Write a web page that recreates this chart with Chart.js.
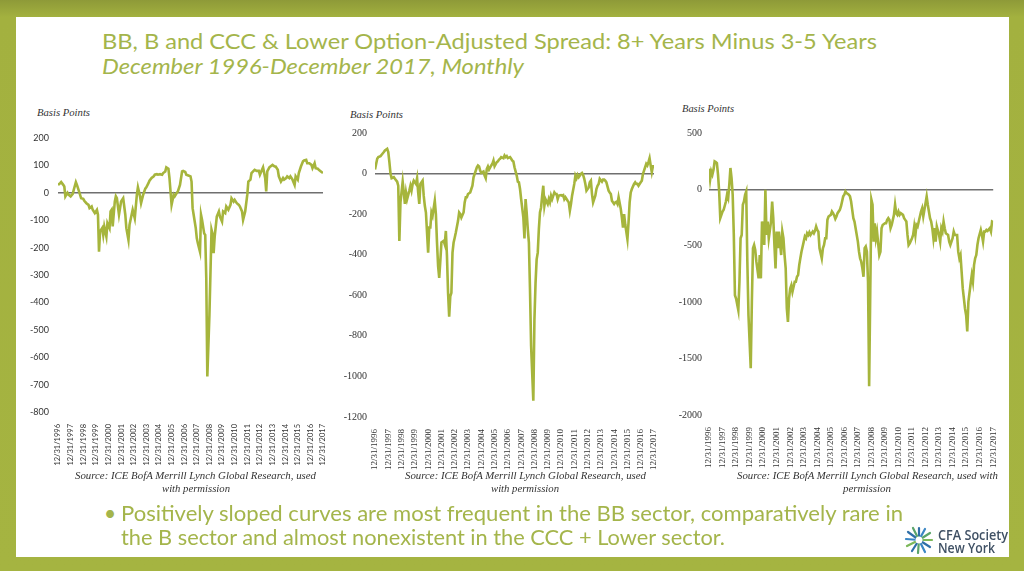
<!DOCTYPE html>
<html>
<head>
<meta charset="utf-8">
<script src="https://cdn.jsdelivr.net/npm/chart.js@4.4.0/dist/chart.umd.min.js"></script>
<style>
  html, body { margin: 0; padding: 0; }
  body {
    width: 1024px; height: 571px; overflow: hidden; position: relative;
    background: linear-gradient(to bottom, #8e9a38 0px, #a3b13f 17px, #a5b441 100%);
  }
  #panel { position: absolute; left: 16px; top: 17px; width: 993px; height: 540px; background: #fff; }
  .t { position: absolute; white-space: nowrap; transform-origin: 0 0; }
  .head { font-family: Lato, "Open Sans", sans-serif; color: #a4b54b; font-size: 21px; line-height: 21px; }
  .serif { font-family: "Liberation Serif", "DejaVu Serif", serif; font-style: italic; color: #333; font-size: 11px; line-height: 11px; }
  canvas { position: absolute; }
  .logo { font-family: "Open Sans", sans-serif; color: #3f5064; font-size: 14px; line-height: 12px; font-weight: 600; }
</style>
</head>
<body>
<div id="panel"></div>

<div class="t head" style="left:102px; top:30px;" data-w="775">BB, B and CCC &amp; Lower Option-Adjusted Spread: 8+ Years Minus 3-5 Years</div>
<div class="t head" style="left:102px; top:55px; font-style:italic;" data-w="422">December 1996-December 2017, Monthly</div>

<div class="t serif" style="left:37px; top:107px;" data-w="53">Basis Points</div>
<div class="t serif" style="left:350px; top:109px;" data-w="53">Basis Points</div>
<div class="t serif" style="left:682px; top:103px;" data-w="52">Basis Points</div>

<canvas id="bb" width="330" height="350" style="left:10px; top:120px;"></canvas>
<canvas id="b" width="340" height="360" style="left:330px; top:118px;"></canvas>
<canvas id="ccc" width="348" height="360" style="left:660px; top:118px;"></canvas>

<div class="t serif" style="left:75px; top:470px;" data-w="241">Source: ICE BofA Merrill Lynch Global Research, used</div>
<div class="t serif" style="left:162px; top:483px;" data-w="68">with permission</div>
<div class="t serif" style="left:405px; top:470px;" data-w="241">Source: ICE BofA Merrill Lynch Global Research, used</div>
<div class="t serif" style="left:491px; top:483px;" data-w="68">with permission</div>
<div class="t serif" style="left:737px; top:470px;" data-w="261">Source: ICE BofA Merrill Lynch Global Research, used with</div>
<div class="t serif" style="left:843px; top:483px;" data-w="48">permission</div>

<div class="t head" style="left:104px; top:502px;">&bull;</div>
<div class="t head" style="left:121px; top:502px;" data-w="782">Positively sloped curves are most frequent in the BB sector, comparatively rare in</div>
<div class="t head" style="left:121px; top:526px;" data-w="604">the B sector and almost nonexistent in the CCC + Lower sector.</div>

<svg class="t" style="left:904px; top:526px;" width="30" height="28" viewBox="0 0 30 28">
  <g stroke-width="2.2" stroke-linecap="round">
    <line x1="15" y1="14" x2="15" y2="2" stroke="#2f6fa8"/>
    <line x1="15" y1="14" x2="21" y2="3" stroke="#3a86c4"/>
    <line x1="15" y1="14" x2="26" y2="7" stroke="#5aa46a"/>
    <line x1="15" y1="14" x2="28" y2="14" stroke="#7cb85a"/>
    <line x1="15" y1="14" x2="26" y2="21" stroke="#2f6fa8"/>
    <line x1="15" y1="14" x2="21" y2="26" stroke="#3a86c4"/>
    <line x1="15" y1="14" x2="14" y2="27" stroke="#5aa46a"/>
    <line x1="15" y1="14" x2="8" y2="25" stroke="#2f6fa8"/>
    <line x1="15" y1="14" x2="3" y2="20" stroke="#7cb85a"/>
    <line x1="15" y1="14" x2="2" y2="13" stroke="#3a86c4"/>
    <line x1="15" y1="14" x2="4" y2="6" stroke="#2f6fa8"/>
    <line x1="15" y1="14" x2="9" y2="2" stroke="#5aa46a"/>
  </g>
  <circle cx="15" cy="14" r="3.5" fill="#fff"/>
</svg>
<div class="t logo" style="left:938px; top:529px;" data-w="70">CFA Society</div>
<div class="t logo" style="left:938px; top:542px;" data-w="57">New York</div>

<script>
// x = months since Dec 1996 (0 = 12/31/1996, 252 = 12/31/2017)
const tickLabels = ["12/31/1996","12/31/1997","12/31/1998","12/31/1999","12/31/2000","12/31/2001","12/31/2002","12/31/2003","12/31/2004","12/31/2005","12/31/2006","12/31/2007","12/31/2008","12/31/2009","12/31/2010","12/31/2011","12/31/2012","12/31/2013","12/31/2014","12/31/2015","12/31/2016","12/31/2017"];

// BB, basis points
const bbSeries = [[0,29],[2,35],[3,39],[5,29],[6,23],[7,-13],[9,0],[10,-7],[12,-13],[14,-4],[15,11],[17,39],[18,29],[20,5],[22,-20],[24,-22],[25,-29],[27,-38],[29,-44],[30,-56],[32,-50],[33,-62],[35,-74],[37,-62],[38,-80],[39,-215],[40,-141],[42,-129],[43,-154],[44,-123],[46,-160],[47,-111],[49,-129],[50,-68],[51,-62],[52,-123],[54,-32],[55,-13],[56,-20],[58,-80],[59,-56],[60,-32],[62,-20],[64,-80],[65,-129],[67,-172],[68,-117],[70,-80],[71,-62],[73,-93],[75,-7],[76,20],[78,-13],[79,-38],[81,-7],[83,15],[84,20],[86,35],[87,44],[89,54],[91,60],[92,66],[94,68],[95,66],[97,68],[99,66],[100,72],[102,78],[103,93],[105,88],[106,54],[108,-44],[110,-7],[111,-13],[113,0],[114,5],[116,29],[118,78],[119,80],[121,76],[122,66],[124,63],[126,60],[127,41],[128,-56],[129,-80],[131,-129],[132,-166],[133,-184],[135,-215],[136,-80],[137,-99],[139,-148],[140,-154],[141,-312],[142,-670],[144,-445],[146,-135],[147,-150],[148,-220],[149,-160],[151,-87],[153,-68],[154,-87],[156,-105],[157,-68],[159,-74],[160,-50],[162,-62],[164,-44],[165,-20],[167,-32],[168,-26],[170,-38],[172,-44],[173,-50],[175,-68],[176,-99],[178,-68],[180,-7],[181,41],[183,48],[184,72],[186,80],[187,84],[189,80],[191,80],[192,66],[194,84],[195,93],[197,54],[198,5],[199,78],[201,93],[202,96],[204,102],[206,96],[207,96],[209,84],[210,60],[212,41],[214,54],[215,48],[217,54],[218,60],[220,54],[221,60],[223,48],[225,29],[226,60],[228,48],[229,72],[231,96],[233,115],[234,118],[236,120],[237,108],[239,108],[241,102],[242,90],[244,108],[245,90],[247,88],[248,84],[250,78],[252,72]];

// B, basis points
const bSeries = [[0,20],[2,73],[3,81],[5,86],[6,93],[8,106],[9,114],[11,122],[12,106],[13,56],[14,0],[15,-23],[17,-18],[18,-26],[20,-40],[21,-60],[22,-332],[23,-142],[25,-40],[26,-93],[27,-150],[28,-93],[29,-126],[31,-84],[32,-60],[33,-84],[34,-51],[35,-35],[37,-51],[38,-23],[39,-93],[40,-150],[41,-51],[43,-35],[44,-109],[45,-159],[46,-192],[48,-390],[49,-266],[50,-266],[51,-192],[52,-208],[54,-134],[55,-200],[56,-340],[57,-456],[58,-514],[59,-431],[60,-340],[62,-332],[63,-349],[64,-283],[65,-407],[66,-588],[67,-705],[68,-605],[69,-588],[70,-390],[71,-340],[72,-316],[73,-291],[75,-233],[76,-192],[77,-200],[78,-217],[80,-192],[81,-142],[82,-117],[83,-117],[84,-101],[86,-93],[87,-76],[88,-60],[89,-18],[90,-2],[92,31],[93,40],[94,35],[95,15],[96,3],[98,10],[99,-10],[100,-23],[101,23],[102,35],[103,20],[105,40],[106,48],[107,64],[108,36],[110,56],[111,60],[112,69],[113,73],[114,81],[116,76],[117,89],[118,81],[119,86],[120,76],[122,81],[123,73],[124,64],[125,60],[126,31],[128,-10],[129,-40],[130,-43],[131,-76],[132,-126],[134,-217],[135,-320],[136,-126],[137,-192],[138,-274],[139,-340],[140,-572],[141,-850],[143,-1120],[144,-720],[145,-540],[146,-423],[147,-390],[148,-274],[149,-192],[150,-167],[151,-109],[152,-60],[153,-159],[154,-126],[156,-150],[157,-126],[158,-142],[159,-109],[160,-126],[162,-93],[163,-101],[164,-101],[165,-126],[166,-109],[168,-106],[169,-109],[170,-106],[171,-126],[172,-117],[174,-134],[175,-142],[176,-183],[177,-150],[178,-109],[180,-51],[181,-10],[182,-23],[183,-7],[184,-18],[186,-2],[187,3],[188,-7],[189,-26],[190,-51],[191,-84],[193,-68],[194,-43],[195,-35],[196,-101],[197,-142],[199,-109],[200,-76],[201,-60],[202,-51],[203,-26],[205,-40],[206,-30],[207,-30],[208,-35],[209,-43],[211,-84],[212,-93],[213,-101],[214,-134],[216,-150],[217,-142],[218,-139],[219,-150],[220,-117],[222,-175],[223,-217],[224,-266],[225,-200],[226,-250],[228,-324],[229,-241],[230,-142],[231,-93],[232,-76],[234,-51],[235,-43],[236,-51],[237,-51],[238,-60],[240,-43],[241,-35],[242,-2],[243,15],[244,31],[245,48],[246,40],[247,56],[248,76],[249,40],[250,7],[251,36],[252,36]];

// CCC & Lower, basis points
const cccSeries = [[0,184],[1,86],[2,160],[3,131],[4,175],[5,249],[6,243],[7,234],[8,131],[9,-18],[10,-255],[11,-226],[12,-196],[13,-181],[15,-107],[16,-47],[17,-77],[18,42],[19,190],[20,101],[21,-47],[22,-404],[23,-938],[24,-967],[26,-1071],[27,-819],[28,-433],[29,-404],[30,-136],[31,-107],[32,-47],[33,-18],[34,-641],[35,-1116],[36,-1350],[37,-1585],[38,-1000],[39,-522],[40,-493],[41,-537],[42,-641],[44,-789],[45,-582],[46,-789],[47,-285],[48,-344],[49,-493],[50,-3],[51,-404],[52,-285],[53,-433],[55,-285],[56,-107],[57,-255],[58,-493],[59,-700],[60,-374],[61,-522],[62,-374],[64,-582],[65,-374],[66,-433],[67,-582],[68,-700],[69,-1056],[70,-1175],[71,-967],[72,-878],[73,-849],[74,-908],[76,-819],[77,-819],[78,-774],[79,-760],[80,-671],[81,-611],[82,-552],[84,-463],[85,-418],[86,-433],[87,-389],[88,-404],[89,-380],[90,-404],[92,-374],[93,-389],[94,-368],[95,-329],[96,-359],[97,-374],[98,-522],[100,-611],[101,-522],[102,-493],[103,-433],[104,-433],[105,-270],[106,-240],[108,-226],[109,-196],[110,-211],[111,-231],[112,-261],[113,-240],[114,-211],[116,-181],[117,-151],[118,-107],[119,-62],[120,-47],[121,-18],[122,-33],[124,-47],[125,-62],[126,-107],[127,-181],[128,-255],[129,-285],[130,-344],[132,-463],[133,-552],[134,-611],[135,-641],[136,-700],[137,-774],[138,-522],[139,-507],[140,-552],[141,-819],[142,-1745],[143,-900],[144,-92],[145,-136],[146,-463],[147,-300],[148,-433],[149,-374],[151,-582],[152,-552],[153,-344],[154,-315],[156,-300],[157,-300],[158,-270],[159,-255],[160,-270],[161,-344],[162,-315],[164,-226],[165,-136],[166,-211],[167,-226],[168,-196],[169,-226],[170,-211],[172,-226],[173,-255],[174,-270],[175,-285],[176,-404],[177,-493],[178,-478],[180,-433],[181,-404],[182,-329],[183,-404],[184,-315],[185,-329],[186,-285],[188,-196],[189,-166],[190,-240],[191,-181],[192,-122],[193,-62],[194,-136],[196,-255],[197,-285],[198,-344],[199,-433],[200,-344],[201,-463],[202,-329],[204,-404],[205,-463],[206,-344],[207,-374],[208,-285],[209,-344],[210,-389],[212,-404],[213,-463],[214,-493],[215,-463],[216,-433],[217,-374],[218,-404],[220,-404],[221,-552],[222,-611],[223,-582],[224,-730],[225,-878],[226,-967],[227,-1056],[228,-1116],[229,-1260],[230,-997],[232,-834],[233,-760],[234,-819],[235,-671],[236,-611],[237,-582],[238,-493],[239,-433],[241,-359],[242,-404],[243,-463],[244,-374],[245,-374],[246,-359],[247,-368],[249,-344],[250,-374],[251,-285],[252,-290]];

const lineColor = "#a6b53c";

function makeChart(id, series, yMin, yMax, yStep, cfg) {
  const ctx = document.getElementById(id).getContext("2d");
  return new Chart(ctx, {
    type: "line",
    data: {
      datasets: [{
        data: series.map((p) => ({ x: p[0], y: p[1] })),
        borderColor: lineColor,
        borderWidth: 2.6,
        pointRadius: 0,
        tension: 0,
        fill: false,
      }],
    },
    options: {
      responsive: false,
      animation: false,
      events: [],
      layout: { padding: { left: 0, right: cfg.padRight, top: cfg.padTop, bottom: 0 } },
      plugins: { legend: { display: false }, tooltip: { enabled: false } },
      scales: {
        x: {
          type: "linear",
          min: 0,
          max: 252,
          grid: { display: false },
          border: { display: false },
          ticks: {
            stepSize: 12,
            autoSkip: false,
            minRotation: 90,
            maxRotation: 90,
            padding: 4,
            color: "#333",
            font: cfg.xFont,
            callback: (v, i) => tickLabels[i],
          },
          afterFit: (s) => { s.height = cfg.xHeight; },
        },
        y: {
          min: yMin,
          max: yMax,
          border: { display: false },
          grid: {
            drawTicks: false,
            color: (c) => (c.tick && c.tick.value === 0 ? "#6f6f6f" : "rgba(0,0,0,0)"),
            lineWidth: 1.5,
          },
          ticks: {
            stepSize: yStep,
            padding: cfg.yPad,
            color: "#333",
            font: cfg.yFont,
            callback: (v) => String(v),
          },
          afterFit: (s) => { s.width = cfg.yWidth; },
        },
      },
    },
  });
}

const sansY = { family: "Lato, 'Open Sans', sans-serif", size: 9 };
const sansX = { family: "Lato, 'Open Sans', sans-serif", size: 7.5 };
const serifY = { family: "'Liberation Serif', serif", size: 10 };
const serifX = { family: "'Liberation Serif', serif", size: 9 };

makeChart("bb", bbSeries, -800, 200, 100,
  { padRight: 17, padTop: 18, xHeight: 58, yWidth: 48, yPad: 9, xFont: sansX, yFont: sansY });
makeChart("b", bSeries, -1200, 200, 200,
  { padRight: 16, padTop: 15, xHeight: 61, yWidth: 45, yPad: 8, xFont: serifX, yFont: serifY });
makeChart("ccc", cccSeries, -2000, 500, 500,
  { padRight: 6, padTop: 15, xHeight: 63, yWidth: 49, yPad: 7, xFont: serifX, yFont: serifY });

function fitText() {
  document.querySelectorAll("[data-w]").forEach((el) => {
    el.style.transform = "none";
    const w = el.getBoundingClientRect().width;
    if (w > 0) el.style.transform = "scaleX(" + (el.dataset.w / w) + ")";
  });
}
fitText();
if (document.fonts) document.fonts.ready.then(fitText);
</script>
</body>
</html>
